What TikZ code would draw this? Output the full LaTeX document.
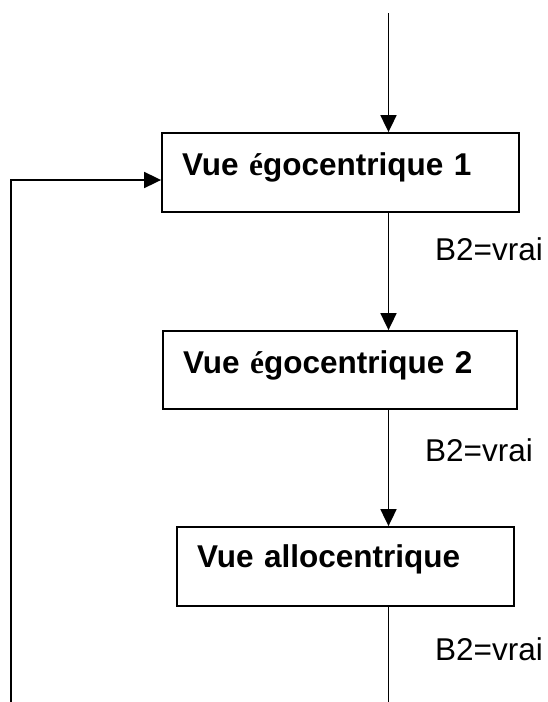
\documentclass[tikz,border=0pt]{standalone}
\usepackage{fontspec}
\setmainfont{Liberation Sans}
\newfontfamily\accentFont{Liberation Serif}
\usepackage{tikz}
\usetikzlibrary{positioning}
\usetikzlibrary{arrows.meta}
\usetikzlibrary{calc}

\newcommand*\eacute{{\accentFont\bfseries é}}

\begin{document}
\begin{tikzpicture}[x=1pt,y=-1pt]

            \tikzstyle{viewNode} = [draw, line width=1.8pt, inner xsep=20pt, inner ysep=0pt,
                                    align=left, font=\fontsize{31.5pt}{36pt}\selectfont\bfseries];
            \tikzstyle{condNode} = [anchor=base west, inner sep=0pt, font=\fontsize{31.5pt}{36pt}\selectfont];

            \tikzstyle{normalEdge} = [line width=1.8pt];
            \tikzstyle{arrowEdge} = [line width=1.8pt, -{Triangle[length=17pt,width=16pt]}];

            \useasboundingbox (0,0) rectangle (547,702);

            \coordinate (top) at (388.5,13);
            \coordinate (bottom) at (388.5,702);
            \coordinate (loop) at (11,702);

            \node[viewNode, text width=317pt, text height=42pt, text depth=37pt] (ego1) at (340.5,172.5) {Vue \eacute gocentrique 1};
            \node[viewNode, text width=314pt, text height=42pt, text depth=36pt] (ego2) at (340,370) {Vue \eacute gocentrique 2};
            \node[viewNode, text width=297pt, text height=40pt, text depth=39pt] (allo) at (345.5,566.5) {Vue allocentrique};

            \node[condNode] (c1) at (435,260) {B2=vrai};
            \node[condNode] (c2) at (425,461) {B2=vrai};
            \node[condNode] (c3) at (435,660) {B2=vrai};

            \draw[arrowEdge] (top) -- (ego1.north -| top);
            \draw[arrowEdge] (ego1.south -| top) -- (ego2.north -| top);
            \draw[arrowEdge] (ego2.south -| top) -- (allo.north -| top);
            \draw[normalEdge] (allo.south -| top) -- (bottom);
            \draw[arrowEdge] (loop) |- ($(ego1.west)+(0,7.5)$);
\end{tikzpicture}
\end{document}
